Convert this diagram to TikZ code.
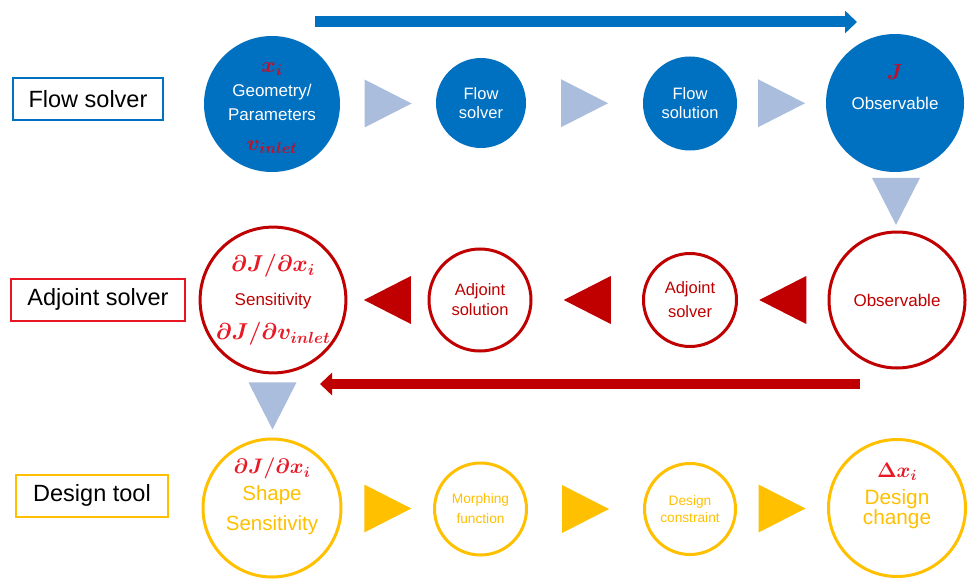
\documentclass[tikz,border=0pt]{standalone}
\usepackage{fix-cm}
\usepackage{fontspec}
\setmainfont{Liberation Sans}
\usetikzlibrary{arrows.meta,calc}

\definecolor{flowblue}{RGB}{0,112,192}
\definecolor{adjred}{RGB}{192,0,0}
\definecolor{tagred}{RGB}{232,24,32}
\definecolor{desgold}{RGB}{255,192,0}
\definecolor{stepblue}{RGB}{170,189,220}
\definecolor{eqdark}{RGB}{192,16,40}
\definecolor{eqred}{RGB}{232,24,36}

% math in a given size and colour
\newcommand{\eqn}[3][22]{{\fontsize{#1}{#1}\selectfont\boldmath\color{#2}$#3$}}
\newcommand{\lift}[1]{\rule{0pt}{#1}}
\newcommand{\drop}[1]{\rule[-#1]{0pt}{#1}}

\tikzset{
  tag/.style={draw=#1, line width=2pt, fill=white, inner sep=0pt, minimum height=42pt,
    font=\fontsize{23.5}{26}\selectfont},
  flowc/.style={circle, fill=flowblue, text=white, inner sep=0pt, align=center,
    font=\fontsize{16.5}{19}\selectfont},
  adjc/.style={circle, draw=adjred, line width=3pt, text=adjred, inner sep=0pt, align=center,
    font=\fontsize{16.5}{20}\selectfont},
  desc/.style={circle, draw=desgold, line width=3pt, text=desgold, inner sep=0pt, align=center,
    font=\fontsize{13.7}{20}\selectfont},
  pics/steptri/.style={code={\fill[#1] (-23.5,-24) -- (23.5,0) -- (-23.5,24) -- cycle;}},
  bigarrow/.style={draw=#1, line width=11pt, -{Triangle[length=12pt,width=22pt]}}
}

\begin{document}
\begin{tikzpicture}[x=1pt,y=-1pt]
  \path[use as bounding box, fill=white] (0,0) rectangle (971,580);

  % row labels
  \node[tag=flowblue, minimum width=150pt] (flowtag) at (88,99) {Flow solver};
  \node[tag=tagred, minimum width=174pt] (adjtag) at (98,299.5) {Adjoint solver};
  \node[tag=desgold, minimum width=152pt] (destag) at (92,495.5) {Design tool};

  % flow solver row
  \node[flowc, minimum size=136pt, font=\fontsize{17}{24}\selectfont] (geom) at (272,104)
    {\lift{18pt}\eqn{eqdark}{x_i}\\ Geometry/\\ Parameters\\[6pt] \eqn{eqdark}{v_{inlet}}};
  \node[flowc, minimum size=90pt] (fsolver) at (481,103) {Flow\\ solver};
  \node[flowc, minimum size=94pt] (fsol) at (690,103.5) {Flow\\ solution};
  \node[flowc, minimum size=138pt, font=\fontsize{17}{24}\selectfont] (obs) at (895,103)
    {\eqn{eqdark}{J}\\[6pt] Observable\drop{33pt}};

  % adjoint row
  \node[adjc, minimum size=137pt, font=\fontsize{17}{34}\selectfont] (sens) at (273,300)
    {\eqn[23]{eqred}{\partial J/\partial x_i}\\ Sensitivity\\ \eqn[23]{eqred}{\partial J/\partial v_{inlet}}};
  \node[adjc, minimum size=102pt] (adjsol) at (480,300) {Adjoint\\ solution};
  \node[adjc, minimum size=93pt, font=\fontsize{16.5}{24}\selectfont] (adjsolver) at (690,300) {Adjoint\\ solver};
  \node[adjc, minimum size=136pt, font=\fontsize{17}{20}\selectfont] (obsadj) at (897,300) {Observable};

  % design row
  \node[desc, minimum size=138pt, font=\fontsize{20.5}{27}\selectfont] (shapesens) at (272,508)
    {\eqn[21]{eqred}{\partial J/\partial x_i}\\ Shape\\[3pt] Sensitivity\drop{27pt}};
  \node[desc, minimum size=92pt] (morph) at (480.5,509) {Morphing\\ function};
  \node[desc, minimum size=91pt, font=\fontsize{13.7}{16.5}\selectfont] (constr) at (690,509) {Design\\ constraint};
  \node[desc, minimum size=137pt, font=\fontsize{20.8}{20}\selectfont] (change) at (897,508)
    {\eqn[21]{eqred}{\Delta x_i}\\[7pt] Design\\ change\drop{29pt}};

  % steps between the circles
  \pic at ($(geom.east)!.5!(fsolver.west)$) {steptri=stepblue};
  \pic at ($(fsolver.east)!.5!(fsol.west)$) {steptri=stepblue};
  \pic at ($(fsol.east)!.5!(obs.west)$) {steptri=stepblue};
  \pic[rotate=-90] at ($(obs.south)!.5!(obsadj.north)$) {steptri=stepblue};
  \pic[rotate=180] at ($(obsadj.west)!.5!(adjsolver.east)$) {steptri=adjred};
  \pic[rotate=180] at ($(adjsolver.west)!.5!(adjsol.east)$) {steptri=adjred};
  \pic[rotate=180] at ($(adjsol.west)!.5!(sens.east)$) {steptri=adjred};
  \pic[rotate=-90] at ($(sens.south)!.5!(shapesens.north)$) {steptri=stepblue};
  \pic at ($(shapesens.east)!.5!(morph.west)$) {steptri=desgold};
  \pic at ($(morph.east)!.5!(constr.west)$) {steptri=desgold};
  \pic at ($(constr.east)!.5!(change.west)$) {steptri=desgold};

  % long arrows
  \coordinate (flowstart) at (315,22);
  \coordinate (flowend) at (857,22);
  \draw[bigarrow=flowblue] (flowstart) -- (flowend);
  \coordinate (adjstart) at (860,384);
  \coordinate (adjend) at (320,384);
  \draw[bigarrow=adjred, line width=10pt] (adjstart) -- (adjend);
\end{tikzpicture}
\end{document}
